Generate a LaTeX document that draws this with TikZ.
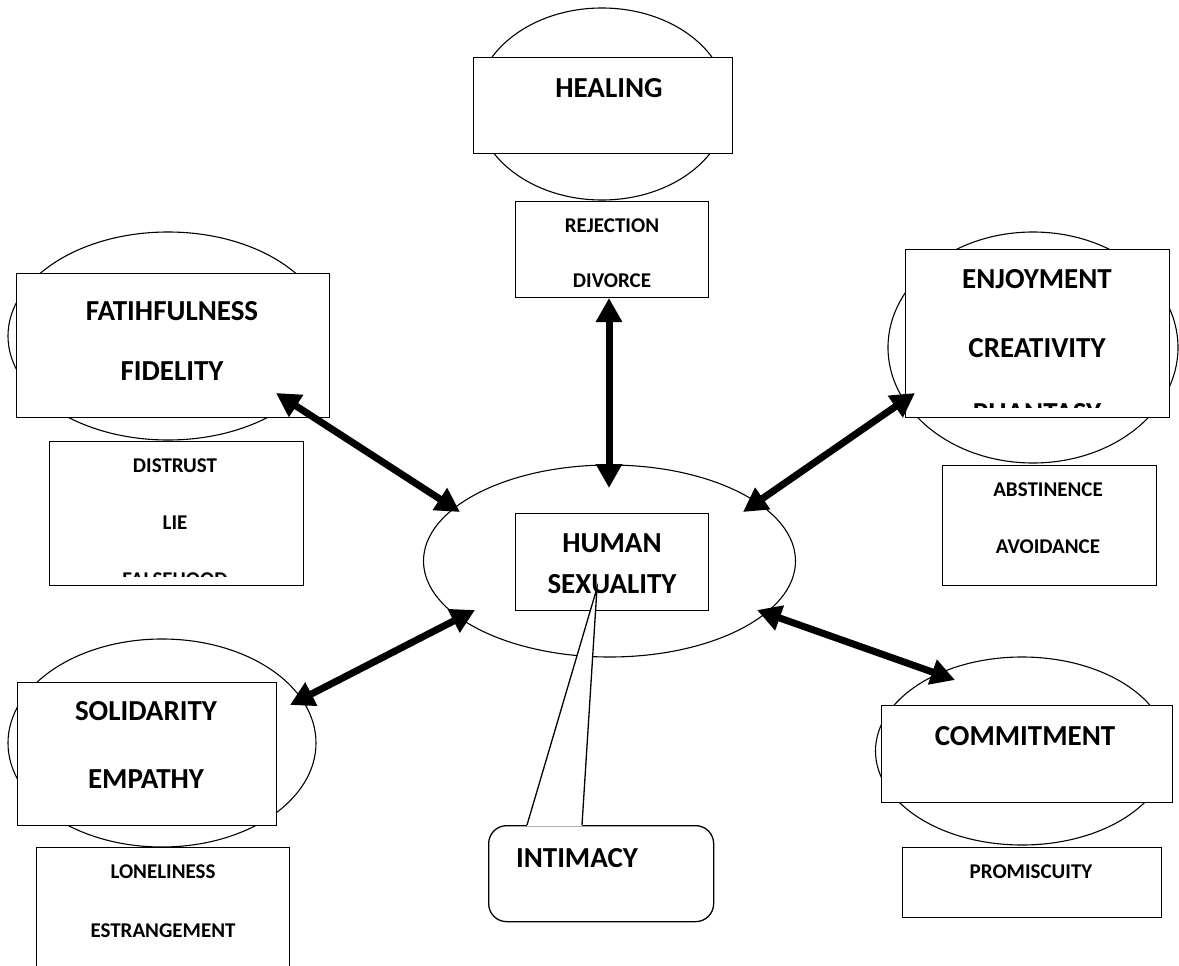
\documentclass[tikz,border=0pt]{standalone}
\usepackage{fontspec}
\setmainfont{Carlito}
\usetikzlibrary{arrows.meta,positioning,calc,shapes.geometric}

\begin{document}
\begin{tikzpicture}[x=1pt, y=-1pt,
  oval/.style={draw, ellipse, line width=1.1pt, fill=white, inner sep=0pt},
  box/.style={draw, rectangle, line width=1.3pt, fill=white, inner sep=0pt, anchor=north west},
  big/.style={font=\fontsize{29}{#1}\selectfont\bfseries, align=center, anchor=base, inner sep=0pt},
  big/.default=60,
  small/.style={font=\fontsize{21}{#1}\selectfont\bfseries, align=center, anchor=base, inner sep=0pt},
  small/.default=57,
  link/.style={line width=7pt, {Triangle[length=24pt,width=25pt]}-{Triangle[length=24pt,width=25pt]}}]
\useasboundingbox (0,0) rectangle (1179,966);

% ovals behind the boxes
\node[oval, minimum width=252pt, minimum height=192pt] (healo) at (602,104) {};
\node[oval, minimum width=320pt, minimum height=208pt] (fido) at (168,336) {};
\node[oval, minimum width=290pt, minimum height=231pt] (enjo) at (1033,347.5) {};
\node[oval, minimum width=308pt, minimum height=208pt] (solo) at (162,743) {};
\node[oval, minimum width=293pt, minimum height=188pt] (como) at (1022,751) {};

% value boxes
\node[box, minimum width=259pt, minimum height=96pt] (heal) at (473,57) {};
\node[box, minimum width=313pt, minimum height=144pt] (fid) at (16,273) {};
\node[box, minimum width=264pt, minimum height=168pt] (enj) at (905,249) {};
\node[box, minimum width=259pt, minimum height=143pt] (sol) at (17,682) {};
\node[box, minimum width=291pt, minimum height=97pt] (com) at (881,705) {};

% counter-value boxes
\node[box, minimum width=193pt, minimum height=96pt] (rej) at (515,201) {};
\node[box, minimum width=254pt, minimum height=144pt] (dis) at (49,441) {};
\node[box, minimum width=214pt, minimum height=120pt] (abs) at (942,465) {};
\node[box, minimum width=253pt, minimum height=140pt] (lon) at (36,847) {};
\node[box, minimum width=259pt, minimum height=70pt] (pro) at (902,847) {};

% labels (base = last line)
\node[big] (healt) at (609,97) {HEALING};
\node[big] (fidt) at (172,380) {FATIHFULNESS\\FIDELITY};
\node[big=68] (solt) at (146,788) {SOLIDARITY\\EMPATHY};
\node[big] (comt) at (1025,745) {COMMITMENT};
\node[small] (abst) at (1048,553) {ABSTINENCE\\AVOIDANCE};
\node[small=59] (lont) at (163,937) {LONELINESS\\ESTRANGEMENT};
\node[small] (prot) at (1031,878) {PROMISCUITY};
\begin{scope}
  \clip (rej.north west) rectangle ($(rej.south east)+(0,-9)$);
  \node[small=55] (rejt) at (612,287) {REJECTION\\DIVORCE};
\end{scope}
\begin{scope}
  \clip (dis.north west) rectangle ($(dis.south east)+(0,-10)$);
  \node[small] (dist) at (175,586) {DISTRUST\\LIE\\FALSEHOOD};
\end{scope}
\begin{scope}
  \clip (enj.north west) rectangle ($(enj.south east)+(0,-11)$);
  \node[big=69] (enjt) at (1037,422) {ENJOYMENT\\CREATIVITY\\[-4pt]PHANTASY};
\end{scope}

% hub
\node[oval, minimum width=372pt, minimum height=192pt] (hub) at (609.5,561) {};
\node[box, minimum width=193pt, minimum height=97pt] (hs) at (515,513) {};
\node[big=41] (hst) at (612,593) {HUMAN\\SEXUALITY};

% arrow ends
\coordinate (vtop) at (609,298);  \coordinate (vbot) at (609,488);
\coordinate (fidend) at (276,393); \coordinate (hubfid) at (460,512);
\coordinate (enjend) at (915,393); \coordinate (hubenj) at (743,512);
\coordinate (solend) at (290,705); \coordinate (hubsol) at (475,610);
\coordinate (comend) at (955,680); \coordinate (hubcom) at (757,610);
\draw[link] (vtop) -- (vbot);
\draw[link] (fidend) -- (hubfid);
\draw[link] (enjend) -- (hubenj);
\draw[link] (solend) -- (hubsol);
\draw[link] (comend) -- (hubcom);

% callout
\node[draw, line width=1.3pt, rounded corners=18pt, fill=white, inner sep=0pt,
      minimum width=225pt, minimum height=96pt, anchor=north west] (intim) at (488,825) {};
\coordinate (ctip) at (597,588);
\fill[white] ($(intim.north west)+(39,1)$) -- (ctip) -- ($(intim.north west)+(94,1)$) -- cycle;
\draw[line width=1.3pt] ($(intim.north west)+(39,0)$) -- (ctip) -- ($(intim.north west)+(94,0)$);
\node[big] (intimt) at (577,867) {INTIMACY};
\end{tikzpicture}
\end{document}
